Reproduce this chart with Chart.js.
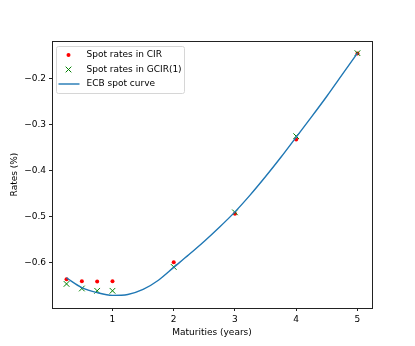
<!DOCTYPE html>
<html>
<head>
<meta charset="utf-8">
<script src="https://cdn.jsdelivr.net/npm/chart.js@4/dist/chart.umd.min.js"></script>
<style>
  html, body { margin: 0; padding: 0; background: #fff; }
  #wrap { width: 415px; height: 346px; }
</style>
</head>
<body>
<div id="wrap"><canvas id="chart" width="415" height="346"></canvas></div>
<script>
const maturities = [0.25, 0.5, 0.75, 1, 2, 3, 4, 5];
const cirRates = [-0.637, -0.641, -0.642, -0.641, -0.600, -0.494, -0.332, -0.145];
const gcirRates = [-0.647, -0.657, -0.662, -0.662, -0.610, -0.491, -0.325, -0.144];

const curveMaturities = [0.25, 0.5, 0.75, 1, 1.25, 1.5, 1.75, 2, 2.25, 2.5, 2.75, 3, 3.25, 3.5, 3.75, 4, 4.25, 4.5, 4.75, 5];
const curveRates = [-0.634, -0.655, -0.666, -0.672, -0.670, -0.659, -0.639, -0.611, -0.583, -0.554, -0.523, -0.490, -0.453, -0.413, -0.371, -0.327, -0.283, -0.238, -0.191, -0.144];

const xTicks = [1, 2, 3, 4, 5];
const yTicks = [-0.6, -0.5, -0.4, -0.3, -0.2];

const labels = ['Spot rates in CIR', 'Spot rates in GCIR(1)', 'ECB spot curve'];
const FONT = 'DejaVu Sans';
const GREEN = '#008000';

const toXY = (xs, ys) => xs.map((x, i) => ({ x, y: ys[i] }));

// matplotlib-like frame + legend in the upper left of the axes
const framePlugin = {
    id: 'frame',
    afterDraw(chart) {
        const { ctx, chartArea: a } = chart;
        ctx.save();
        ctx.strokeStyle = '#222';
        ctx.lineWidth = 1;
        ctx.strokeRect(Math.round(a.left) + 0.5, Math.round(a.top) + 0.5,
            Math.round(a.right - a.left), Math.round(a.bottom - a.top));

        // legend box
        const bx = a.left + 4.5, by = a.top + 5.5, bw = 128, bh = 47;
        ctx.fillStyle = 'rgba(255,255,255,0.8)';
        ctx.strokeStyle = '#d6d6d6';
        ctx.beginPath();
        ctx.roundRect(bx, by, bw, bh, 2);
        ctx.fill();
        ctx.stroke();

        const rowY = [by + 8.5, by + 23, by + 37.5];
        const mx = bx + 12;
        // red dot
        ctx.fillStyle = '#ff0000';
        ctx.beginPath();
        ctx.arc(mx, rowY[0], 2, 0, Math.PI * 2);
        ctx.fill();
        // green x, same marker as the data
        ctx.strokeStyle = GREEN;
        ctx.fillStyle = GREEN;
        ctx.lineWidth = 1;
        Chart.helpers.drawPoint(ctx, { pointStyle: 'crossRot', radius: 4, borderWidth: 1, rotation: 0 }, mx, rowY[1]);
        // blue line
        ctx.strokeStyle = '#1f77b4';
        ctx.lineWidth = 1.4;
        ctx.beginPath();
        ctx.moveTo(bx + 2, rowY[2]); ctx.lineTo(bx + 23, rowY[2]);
        ctx.stroke();

        ctx.fillStyle = '#000';
        ctx.font = '9px "' + FONT + '"';
        ctx.textBaseline = 'middle';
        ctx.textAlign = 'left';
        labels.forEach((t, i) => ctx.fillText(t, bx + 30, rowY[i]));
        ctx.restore();
    }
};

new Chart(document.getElementById('chart'), {
    type: 'scatter',
    data: {
        datasets: [
            {
                type: 'line',
                label: labels[2],
                data: toXY(curveMaturities, curveRates),
                borderColor: '#1f77b4',
                borderWidth: 1.4,
                pointRadius: 0,
                cubicInterpolationMode: 'monotone',
                fill: false,
                order: 0,
            },
            {
                label: labels[1],
                data: toXY(maturities, gcirRates),
                pointStyle: 'crossRot',
                pointRadius: 4,
                borderColor: GREEN,
                borderWidth: 1,
                backgroundColor: GREEN,
                order: 1,
            },
            {
                label: labels[0],
                data: toXY(maturities, cirRates),
                pointStyle: 'circle',
                pointRadius: 2,
                borderWidth: 0,
                backgroundColor: '#ff0000',
                order: 2,
            },
        ],
    },
    plugins: [framePlugin],
    options: {
        responsive: false,
        animation: false,
        devicePixelRatio: 1,
        layout: { padding: { left: 0, top: 41, right: 43, bottom: 0 } },
        plugins: {
            legend: { display: false },
            tooltip: { enabled: false },
        },
        scales: {
            x: {
                type: 'linear',
                min: 0.0125,
                max: 5.2375,
                afterBuildTicks: s => { s.ticks = xTicks.map(v => ({ value: v })); },
                afterFit: s => { s.height = 38; },
                border: { display: false },
                grid: { display: true, drawOnChartArea: false, drawTicks: true, tickLength: 3, color: '#222' },
                ticks: {
                    color: '#000',
                    padding: 3,
                    maxRotation: 0,
                    font: { family: FONT, size: 9 },
                    callback: v => String(v),
                },
                title: {
                    display: true,
                    text: 'Maturities (years)',
                    color: '#000',
                    font: { family: FONT, size: 9 },
                    padding: { top: 0, bottom: 7.5 },
                },
            },
            y: {
                type: 'linear',
                min: -0.6995,
                max: -0.1175,
                afterBuildTicks: s => { s.ticks = yTicks.map(v => ({ value: v })); },
                afterFit: s => { s.width = 52; },
                border: { display: false },
                grid: { display: true, drawOnChartArea: false, drawTicks: true, tickLength: 3, color: '#222' },
                ticks: {
                    color: '#000',
                    padding: 3,
                    font: { family: FONT, size: 9 },
                    callback: v => '\u2212' + Math.abs(v).toFixed(1),
                },
                title: {
                    display: true,
                    text: 'Rates (%)',
                    color: '#000',
                    font: { family: FONT, size: 9 },
                    padding: { top: 9.5, bottom: 0 },
                },
            },
        },
    },
});
</script>
</body>
</html>
